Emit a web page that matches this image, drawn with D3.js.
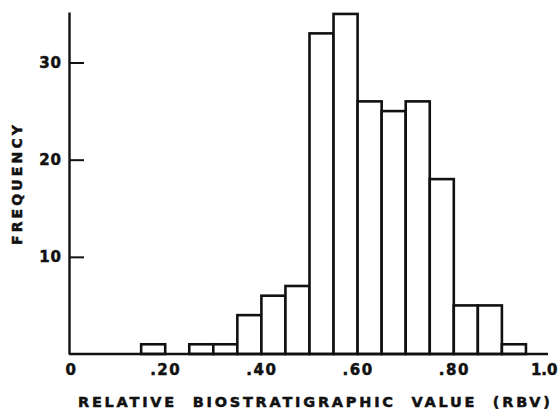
<!DOCTYPE html>
<html><head><meta charset="utf-8">
<script src="https://cdn.jsdelivr.net/npm/d3@7"></script>
<style>
body{margin:0;background:#fff;}
svg{display:block;}
text{font-family:"DejaVu Sans",sans-serif;font-weight:bold;fill:#111;stroke:#111;stroke-width:0.5px;}
</style></head>
<body><svg id="c" width="558" height="411"></svg>
<script>
const binStarts = [0.15,0.25,0.30,0.35,0.40,0.45,0.50,0.55,0.60,0.65,0.70,0.75,0.80,0.85,0.90];
const counts    = [1,   1,   1,   4,   6,   7,   33,  35,  26,  25,  26,  18,  5,   5,   1];
const binWidth = 0.05;
const xTicks = [0,0.2,0.4,0.6,0.8,1.0];
const xTickLabels = ["0",".20",".40",".60",".80","1.0"];
const yTicks = [10,20,30];
const xTitle = "RELATIVE  BIOSTRATIGRAPHIC  VALUE  (RBV)";
const yTitle = "FREQUENCY";

const svg = d3.select("#c");
const x = d3.scaleLinear().domain([0,1]).range([69,550]);
const y = d3.scaleLinear().domain([0,35.2]).range([354,12]);

const bins = binStarts.map((s,i)=>({x0:s,x1:s+binWidth,n:counts[i]}));

svg.append("g").selectAll("rect").data(bins).join("rect")
  .attr("x",d=>x(d.x0)).attr("width",d=>x(d.x1)-x(d.x0))
  .attr("y",d=>y(d.n)).attr("height",d=>y(0)-y(d.n))
  .attr("fill","#fff").attr("stroke","#111").attr("stroke-width",2.6);

const yAxis = d3.axisLeft(y).tickValues(yTicks).tickSize(-15).tickSizeOuter(0).tickPadding(7).tickFormat(d3.format("d"));
const gy = svg.append("g").attr("transform",`translate(${x(0)},0)`).call(yAxis);
gy.select(".domain").attr("stroke","#111").attr("stroke-width",2.4);
gy.selectAll(".tick line").attr("stroke","#111").attr("stroke-width",2);
gy.selectAll(".tick text").style("font-size","15px").attr("font-family",null).style("letter-spacing","1px");

const xAxis = d3.axisBottom(x).tickValues(xTicks).tickSize(0).tickSizeOuter(0).tickPadding(10)
  .tickFormat((d,i)=>xTickLabels[i]);
const gx = svg.append("g").attr("transform",`translate(0,${y(0)})`).call(xAxis);
gx.select(".domain").attr("stroke","#111").attr("stroke-width",2.4).attr("d",`M${x(0)},0H548`);
gx.selectAll(".tick text").style("font-size","15px").attr("font-family",null).style("letter-spacing","1.5px");
gx.selectAll(".tick text").filter(d=>d===1).attr("text-anchor","end").attr("dx",7).style("letter-spacing","0px");
gx.selectAll(".tick text").filter(d=>d===0).attr("dx",2);

svg.append("text").attr("x",78).attr("y",407)
  .attr("textLength",472).attr("lengthAdjust","spacing")
  .style("font-size","14.5px").style("white-space","pre").attr("xml:space","preserve").text(xTitle);

svg.append("text").attr("transform","translate(22,245) rotate(-90)")
  .attr("textLength",120).attr("lengthAdjust","spacing")
  .style("font-size","14px").text(yTitle);
</script></body></html>
